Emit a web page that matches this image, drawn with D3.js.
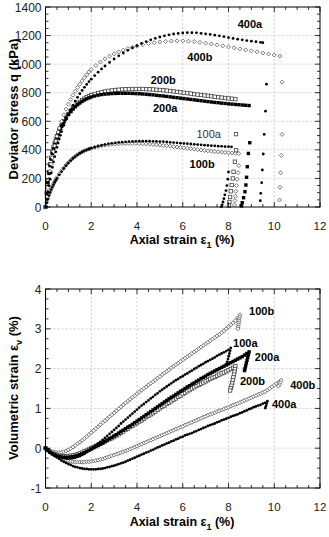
<!DOCTYPE html>
<html>
<head>
<meta charset="utf-8">
<script src="https://cdn.jsdelivr.net/npm/d3@7/dist/d3.min.js"></script>
<style>
  body { margin: 0; background: #fff; }
  svg text { font-family: "Liberation Sans", Arial, sans-serif; }
</style>
</head>
<body>
<svg width="329" height="537"></svg>
<script>
// ---- stress-strain data (axial strain %, q kPa) ----
const q400a = [[0,0],[0.05,55],[0.1,105],[0.15,150],[0.2,195],[0.25,238],[0.3,278],[0.35,316],[0.4,352],[0.45,386],[0.5,418],[0.55,448],[0.6,476],[0.65,502],[0.7,527],[0.8,572],[0.9,612],[1.0,648],[1.1,681],[1.2,712],[1.3,741],[1.4,768],[1.5,793],[1.6,816],[1.7,838],[1.8,858],[1.9,877],[2.0,895],[2.15,920],[2.3,944],[2.45,966],[2.6,987],[2.8,1012],[3.0,1036],[3.2,1058],[3.4,1078],[3.6,1097],[3.8,1114],[4.0,1130],[4.2,1145],[4.4,1158],[4.6,1170],[4.8,1181],[5.0,1190],[5.2,1198],[5.4,1205],[5.6,1211],[5.8,1215],[6.0,1218],[6.2,1220],[6.4,1220],[6.6,1219],[6.8,1216],[7.0,1212],[7.2,1208],[7.4,1203],[7.6,1198],[7.8,1192],[8.0,1186],[8.2,1180],[8.4,1175],[8.6,1170],[8.8,1165],[9.0,1161],[9.2,1157],[9.4,1153],[9.5,1150],
  [9.66,860],[9.62,671],[9.56,508],[9.52,371],[9.48,259],[9.45,170],[9.41,96],[9.39,44]];
const q400b = [[0,0],[0.05,70],[0.1,135],[0.15,195],[0.2,250],[0.25,300],[0.3,345],[0.35,388],[0.4,428],[0.45,462],[0.5,495],[0.55,525],[0.6,552],[0.7,600],[0.8,645],[0.9,685],[1.0,720],[1.1,752],[1.2,782],[1.3,810],[1.4,836],[1.5,860],[1.6,883],[1.7,905],[1.8,925],[1.9,944],[2.0,962],[2.2,990],[2.4,1015],[2.6,1037],[2.8,1056],[3.0,1072],[3.2,1086],[3.4,1098],[3.6,1109],[3.8,1118],[4.0,1126],[4.25,1136],[4.5,1144],[4.75,1150],[5.0,1155],[5.25,1159],[5.5,1162],[5.75,1163],[6.0,1163],[6.25,1161],[6.5,1158],[6.75,1153],[7.0,1147],[7.25,1141],[7.5,1135],[7.75,1128],[8.0,1121],[8.25,1114],[8.5,1107],[8.75,1100],[9.0,1093],[9.25,1086],[9.5,1078],[9.75,1071],[10.0,1064],[10.25,1057],
  [10.34,874],[10.34,508],[10.31,361],[10.28,240],[10.25,138],[10.23,49]];
const q200a = [[0,0],[0.05,90],[0.1,170],[0.15,235],[0.2,290],[0.25,335],[0.3,375],[0.35,408],[0.4,438],[0.45,464],[0.5,488],[0.55,510],[0.6,530],[0.65,549],[0.7,566],[0.75,582],[0.8,597],[0.9,624],[1.0,648],[1.1,668],[1.2,686],[1.3,702],[1.4,716],[1.5,728],[1.6,739],[1.7,749],[1.8,757],[1.9,764],[2.0,770],[2.15,777],[2.3,783],[2.45,787],[2.6,790],[2.75,792],[2.9,794],[3.05,795],[3.2,796],[3.35,796],[3.5,796],[3.65,796],[3.8,795],[3.95,794],[4.1,793],[4.25,791],[4.4,789],[4.55,787],[4.7,785],[4.85,782],[5.0,779],[5.15,777],[5.3,774],[5.45,771],[5.6,768],[5.75,765],[5.9,762],[6.05,759],[6.2,756],[6.35,753],[6.5,750],[6.65,747],[6.8,744],[6.95,741],[7.1,738],[7.25,735],[7.4,732],[7.55,730],[7.7,727],[7.85,725],[8.0,722],[8.15,720],[8.3,718],[8.45,716],[8.6,714],[8.75,712],[8.9,710],
  [8.93,450],[8.87,375],[8.82,282],[8.79,208],[8.76,154],[8.72,107],[8.66,65],[8.6,30],[8.57,8]];
const q200b = [[0,0],[0.05,100],[0.1,180],[0.15,245],[0.2,300],[0.25,345],[0.3,385],[0.35,418],[0.4,447],[0.45,472],[0.5,495],[0.55,516],[0.6,535],[0.65,553],[0.7,570],[0.75,585],[0.8,600],[0.9,627],[1.0,651],[1.1,672],[1.2,691],[1.3,708],[1.4,723],[1.5,736],[1.6,748],[1.7,759],[1.8,768],[1.9,776],[2.0,783],[2.15,791],[2.3,798],[2.45,804],[2.6,809],[2.75,813],[2.9,816],[3.05,819],[3.2,821],[3.35,823],[3.5,824],[3.65,825],[3.8,826],[3.95,826],[4.1,826],[4.25,826],[4.4,825],[4.55,824],[4.7,823],[4.85,821],[5.0,819],[5.15,817],[5.3,815],[5.45,812],[5.6,809],[5.75,806],[5.9,803],[6.05,800],[6.2,797],[6.35,794],[6.5,790],[6.65,787],[6.8,784],[6.95,781],[7.1,778],[7.25,775],[7.4,772],[7.55,769],[7.7,766],[7.85,763],[8.0,760],[8.15,758],[8.3,755],
  [8.33,510],[8.33,398],[8.28,317],[8.22,247],[8.19,200],[8.14,154],[8.1,110],[8.07,70],[8.04,35],[8.02,10]];
const q100a = [[0,0],[0.05,30],[0.1,55],[0.15,80],[0.2,102],[0.25,122],[0.3,140],[0.35,157],[0.4,173],[0.45,187],[0.5,200],[0.6,225],[0.7,248],[0.8,270],[0.9,290],[1.0,308],[1.1,325],[1.2,340],[1.3,353],[1.4,365],[1.5,375],[1.6,385],[1.7,393],[1.8,400],[1.9,406],[2.0,412],[2.15,419],[2.3,426],[2.45,432],[2.6,437],[2.75,442],[2.9,446],[3.05,449],[3.2,452],[3.35,454],[3.5,456],[3.65,458],[3.8,459],[3.95,460],[4.1,461],[4.25,461],[4.4,461],[4.55,461],[4.7,460],[4.85,459],[5.0,458],[5.15,457],[5.3,455],[5.45,453],[5.6,451],[5.75,449],[5.9,447],[6.05,445],[6.2,443],[6.35,441],[6.5,439],[6.65,437],[6.8,435],[6.95,433],[7.1,431],[7.25,429],[7.4,428],[7.55,426],[7.7,425],[7.85,423],[8.0,422],[8.13,421],
  [8.0,245],[7.97,195],[7.93,150],[7.89,115],[7.84,85],[7.8,58],[7.76,35],[7.72,15],[7.69,2]];
const q100b = [[0,0],[0.05,32],[0.1,60],[0.15,85],[0.2,108],[0.25,128],[0.3,146],[0.35,163],[0.4,179],[0.45,193],[0.5,206],[0.6,231],[0.7,254],[0.8,275],[0.9,294],[1.0,312],[1.1,328],[1.2,342],[1.3,355],[1.4,366],[1.5,376],[1.6,385],[1.7,393],[1.8,400],[1.9,406],[2.0,411],[2.15,418],[2.3,424],[2.45,429],[2.6,433],[2.75,436],[2.9,439],[3.05,441],[3.2,443],[3.35,444],[3.5,445],[3.65,445],[3.8,445],[3.95,445],[4.1,444],[4.25,443],[4.4,442],[4.55,440],[4.7,438],[4.85,436],[5.0,434],[5.15,431],[5.3,429],[5.45,426],[5.6,423],[5.75,420],[5.9,417],[6.05,414],[6.2,411],[6.35,408],[6.5,405],[6.65,402],[6.8,399],[6.95,396],[7.1,393],[7.25,391],[7.4,388],[7.55,386],[7.7,384],[7.85,382],[8.0,380],[8.15,378],[8.3,376],[8.45,374],
  [8.45,290],[8.42,240],[8.38,195],[8.35,150],[8.32,110],[8.3,75],[8.28,45],[8.26,15]];

// ---- volumetric strain data (axial strain %, volumetric strain %) ----
const v100b = [[0,0],[0.1,-0.04],[0.2,-0.07],[0.3,-0.09],[0.4,-0.1],[0.5,-0.11],[0.6,-0.11],[0.7,-0.1],[0.8,-0.09],[0.9,-0.07],[1.0,-0.04],[1.1,-0.01],[1.2,0.03],[1.3,0.07],[1.4,0.11],[1.5,0.15],[1.6,0.2],[1.7,0.24],[1.8,0.29],[1.9,0.34],[2.0,0.39],[2.1,0.44],[2.2,0.49],[2.3,0.54],[2.4,0.59],[2.5,0.64],[2.6,0.69],[2.7,0.74],[2.8,0.79],[2.9,0.84],[3.0,0.89],[3.1,0.94],[3.2,0.99],[3.3,1.04],[3.4,1.09],[3.5,1.14],[3.6,1.18],[3.7,1.23],[3.8,1.28],[3.9,1.32],[4.0,1.37],[4.1,1.41],[4.2,1.46],[4.3,1.5],[4.4,1.54],[4.5,1.59],[4.6,1.63],[4.7,1.67],[4.8,1.71],[4.9,1.76],[5.0,1.8],[5.1,1.85],[5.2,1.89],[5.3,1.93],[5.4,1.97],[5.5,2.02],[5.6,2.06],[5.7,2.1],[5.8,2.14],[5.9,2.18],[6.0,2.22],[6.1,2.26],[6.2,2.3],[6.3,2.34],[6.4,2.38],[6.5,2.42],[6.6,2.46],[6.7,2.5],[6.8,2.54],[6.9,2.58],[7.0,2.62],[7.1,2.66],[7.2,2.7],[7.3,2.74],[7.4,2.78],[7.5,2.82],[7.6,2.86],[7.7,2.9],[7.8,2.95],[7.9,3.0],[8.0,3.05],[8.1,3.1],[8.2,3.15],[8.3,3.21],[8.4,3.27],[8.5,3.35],
  [8.48,3.3],[8.47,3.25],[8.45,3.2],[8.44,3.15],[8.43,3.1],[8.42,3.05],[8.41,3.0]];
const v100a = [[0,0],[0.1,-0.05],[0.2,-0.1],[0.3,-0.14],[0.4,-0.17],[0.5,-0.2],[0.6,-0.22],[0.7,-0.24],[0.8,-0.25],[0.9,-0.26],[1.0,-0.26],[1.1,-0.26],[1.2,-0.25],[1.3,-0.24],[1.4,-0.22],[1.5,-0.2],[1.6,-0.17],[1.7,-0.14],[1.8,-0.1],[1.9,-0.06],[2.0,-0.02],[2.1,0.03],[2.2,0.07],[2.3,0.12],[2.4,0.16],[2.5,0.21],[2.6,0.26],[2.7,0.31],[2.8,0.36],[2.9,0.41],[3.0,0.46],[3.1,0.51],[3.2,0.56],[3.3,0.62],[3.4,0.67],[3.5,0.72],[3.6,0.77],[3.7,0.82],[3.8,0.87],[3.9,0.92],[4.0,0.97],[4.1,1.02],[4.2,1.07],[4.3,1.11],[4.4,1.16],[4.5,1.2],[4.6,1.25],[4.7,1.29],[4.8,1.34],[4.9,1.38],[5.0,1.43],[5.1,1.47],[5.2,1.51],[5.3,1.55],[5.4,1.59],[5.5,1.63],[5.6,1.67],[5.7,1.71],[5.8,1.74],[5.9,1.78],[6.0,1.81],[6.1,1.85],[6.2,1.88],[6.3,1.92],[6.4,1.95],[6.5,1.99],[6.6,2.02],[6.7,2.06],[6.8,2.09],[6.9,2.12],[7.0,2.16],[7.1,2.19],[7.2,2.22],[7.3,2.25],[7.4,2.28],[7.5,2.32],[7.6,2.35],[7.7,2.38],[7.8,2.41],[7.9,2.44],[8.0,2.47],[8.1,2.52],
  [8.07,2.45],[8.04,2.38],[8.01,2.31],[7.98,2.24],[7.94,2.17],[7.9,2.11]];
const v200a = [[0,0],[0.1,-0.05],[0.2,-0.1],[0.3,-0.14],[0.4,-0.17],[0.5,-0.19],[0.6,-0.21],[0.7,-0.22],[0.8,-0.23],[0.9,-0.23],[1.0,-0.23],[1.1,-0.22],[1.2,-0.21],[1.3,-0.2],[1.4,-0.18],[1.5,-0.16],[1.6,-0.14],[1.7,-0.11],[1.8,-0.08],[1.9,-0.05],[2.0,-0.02],[2.1,0.01],[2.2,0.04],[2.3,0.07],[2.4,0.1],[2.5,0.13],[2.6,0.17],[2.7,0.2],[2.8,0.24],[2.9,0.27],[3.0,0.31],[3.1,0.34],[3.2,0.38],[3.3,0.42],[3.4,0.45],[3.5,0.49],[3.6,0.53],[3.7,0.56],[3.8,0.6],[3.9,0.64],[4.0,0.68],[4.1,0.72],[4.2,0.76],[4.3,0.8],[4.4,0.84],[4.5,0.88],[4.6,0.92],[4.7,0.96],[4.8,1.0],[4.9,1.04],[5.0,1.08],[5.1,1.12],[5.2,1.16],[5.3,1.2],[5.4,1.24],[5.5,1.28],[5.6,1.31],[5.7,1.35],[5.8,1.39],[5.9,1.43],[6.0,1.46],[6.1,1.5],[6.2,1.54],[6.3,1.57],[6.4,1.61],[6.5,1.64],[6.6,1.68],[6.7,1.71],[6.8,1.75],[6.9,1.78],[7.0,1.81],[7.1,1.85],[7.2,1.88],[7.3,1.91],[7.4,1.94],[7.5,1.97],[7.6,2.0],[7.7,2.03],[7.8,2.06],[7.9,2.09],[8.0,2.12],[8.1,2.15],[8.2,2.18],[8.3,2.21],[8.4,2.24],[8.5,2.27],[8.6,2.3],[8.7,2.34],[8.8,2.38],[8.9,2.42],
  [8.87,2.35],[8.84,2.28],[8.81,2.21],[8.78,2.14],[8.75,2.07],[8.72,2.0],[8.7,1.95]];
const v200b = [[0,0],[0.1,-0.05],[0.2,-0.09],[0.3,-0.12],[0.4,-0.15],[0.5,-0.17],[0.6,-0.19],[0.7,-0.2],[0.8,-0.2],[0.9,-0.2],[1.0,-0.2],[1.1,-0.19],[1.2,-0.18],[1.3,-0.17],[1.4,-0.15],[1.5,-0.13],[1.6,-0.11],[1.7,-0.08],[1.8,-0.06],[1.9,-0.03],[2.0,0.0],[2.1,0.03],[2.2,0.06],[2.3,0.08],[2.4,0.11],[2.5,0.14],[2.6,0.17],[2.7,0.2],[2.8,0.23],[2.9,0.25],[3.0,0.28],[3.1,0.32],[3.2,0.35],[3.3,0.39],[3.4,0.42],[3.5,0.46],[3.6,0.49],[3.7,0.53],[3.8,0.56],[3.9,0.6],[4.0,0.63],[4.1,0.67],[4.2,0.7],[4.3,0.74],[4.4,0.78],[4.5,0.81],[4.6,0.85],[4.7,0.88],[4.8,0.92],[4.9,0.96],[5.0,1.0],[5.1,1.04],[5.2,1.07],[5.3,1.11],[5.4,1.14],[5.5,1.18],[5.6,1.22],[5.7,1.25],[5.8,1.29],[5.9,1.32],[6.0,1.36],[6.1,1.39],[6.2,1.43],[6.3,1.46],[6.4,1.5],[6.5,1.53],[6.6,1.56],[6.7,1.59],[6.8,1.62],[6.9,1.65],[7.0,1.68],[7.1,1.71],[7.2,1.74],[7.3,1.77],[7.4,1.79],[7.5,1.82],[7.6,1.85],[7.7,1.88],[7.8,1.9],[7.9,1.93],[8.0,1.96],[8.1,1.99],[8.2,2.02],[8.3,2.06],
  [8.28,1.99],[8.26,1.92],[8.24,1.85],[8.21,1.78],[8.19,1.71],[8.16,1.64],[8.13,1.57],[8.1,1.51],[8.07,1.45]];
const v400b = [[0,0],[0.1,-0.05],[0.2,-0.1],[0.3,-0.14],[0.4,-0.18],[0.5,-0.21],[0.6,-0.24],[0.7,-0.27],[0.8,-0.29],[0.9,-0.31],[1.0,-0.32],[1.1,-0.33],[1.2,-0.34],[1.3,-0.35],[1.4,-0.35],[1.5,-0.35],[1.6,-0.35],[1.7,-0.35],[1.8,-0.34],[1.9,-0.34],[2.0,-0.33],[2.1,-0.32],[2.2,-0.31],[2.3,-0.3],[2.4,-0.28],[2.5,-0.27],[2.6,-0.25],[2.7,-0.23],[2.8,-0.21],[2.9,-0.19],[3.0,-0.17],[3.1,-0.15],[3.2,-0.13],[3.3,-0.11],[3.4,-0.09],[3.5,-0.07],[3.6,-0.05],[3.7,-0.02],[3.8,0.0],[3.9,0.03],[4.0,0.05],[4.1,0.08],[4.2,0.1],[4.3,0.13],[4.4,0.15],[4.5,0.18],[4.6,0.2],[4.7,0.23],[4.8,0.25],[4.9,0.28],[5.0,0.3],[5.1,0.33],[5.2,0.35],[5.3,0.38],[5.4,0.4],[5.5,0.43],[5.6,0.45],[5.7,0.48],[5.8,0.5],[5.9,0.53],[6.0,0.55],[6.1,0.58],[6.2,0.6],[6.3,0.63],[6.4,0.65],[6.5,0.68],[6.6,0.7],[6.7,0.73],[6.8,0.75],[6.9,0.78],[7.0,0.8],[7.1,0.83],[7.2,0.85],[7.3,0.87],[7.4,0.89],[7.5,0.92],[7.6,0.94],[7.7,0.96],[7.8,0.98],[7.9,1.01],[8.0,1.03],[8.1,1.06],[8.2,1.08],[8.3,1.1],[8.4,1.12],[8.5,1.15],[8.6,1.17],[8.7,1.2],[8.8,1.22],[8.9,1.25],[9.0,1.27],[9.1,1.3],[9.2,1.32],[9.3,1.35],[9.4,1.37],[9.5,1.4],[9.6,1.42],[9.7,1.46],[9.8,1.5],[9.9,1.54],[10.0,1.58],[10.1,1.62],[10.2,1.66],[10.3,1.71],
  [10.26,1.65],[10.22,1.6],[10.18,1.56]];
const v400a = [[0,0],[0.1,-0.05],[0.2,-0.1],[0.3,-0.15],[0.4,-0.19],[0.5,-0.23],[0.6,-0.27],[0.7,-0.31],[0.8,-0.34],[0.9,-0.37],[1.0,-0.4],[1.1,-0.42],[1.2,-0.45],[1.3,-0.47],[1.4,-0.48],[1.5,-0.5],[1.6,-0.51],[1.7,-0.52],[1.8,-0.52],[1.9,-0.53],[2.0,-0.53],[2.1,-0.53],[2.2,-0.53],[2.3,-0.52],[2.4,-0.52],[2.5,-0.51],[2.6,-0.5],[2.7,-0.48],[2.8,-0.47],[2.9,-0.45],[3.0,-0.44],[3.1,-0.42],[3.2,-0.4],[3.3,-0.38],[3.4,-0.36],[3.5,-0.34],[3.6,-0.31],[3.7,-0.29],[3.8,-0.26],[3.9,-0.24],[4.0,-0.21],[4.1,-0.19],[4.2,-0.16],[4.3,-0.14],[4.4,-0.11],[4.5,-0.09],[4.6,-0.06],[4.7,-0.04],[4.8,-0.01],[4.9,0.02],[5.0,0.04],[5.1,0.07],[5.2,0.09],[5.3,0.12],[5.4,0.14],[5.5,0.17],[5.6,0.19],[5.7,0.22],[5.8,0.24],[5.9,0.27],[6.0,0.29],[6.1,0.32],[6.2,0.34],[6.3,0.36],[6.4,0.38],[6.5,0.41],[6.6,0.43],[6.7,0.46],[6.8,0.48],[6.9,0.51],[7.0,0.53],[7.1,0.56],[7.2,0.58],[7.3,0.6],[7.4,0.62],[7.5,0.65],[7.6,0.67],[7.7,0.7],[7.8,0.72],[7.9,0.74],[8.0,0.76],[8.1,0.79],[8.2,0.81],[8.3,0.83],[8.4,0.85],[8.5,0.88],[8.6,0.9],[8.7,0.93],[8.8,0.95],[8.9,0.98],[9.0,1.0],[9.1,1.03],[9.2,1.05],[9.3,1.07],[9.4,1.09],[9.5,1.12],[9.6,1.14],[9.7,1.18],
  [9.67,1.12],[9.64,1.06],[9.61,1.01]];

const xTicks = [0, 2, 4, 6, 8, 10, 12];
const qTicks = [0, 200, 400, 600, 800, 1000, 1200, 1400];
const vTicks = [-1, 0, 1, 2, 3, 4];

// labels: [text, strain, value, bold]
const qLabels = [["400a", 8.4, 1250, true], ["400b", 6.2, 1020, true], ["200b", 4.6, 860, true], ["200a", 4.7, 665, true], ["100a", 6.6, 480, false], ["100b", 6.3, 270, true]];
const vLabels = [["100b", 8.9, 3.35, true], ["100a", 8.2, 2.55, true], ["200a", 9.15, 2.2, true], ["200b", 8.5, 1.6, true], ["400b", 10.7, 1.5, true], ["400a", 9.9, 1.0, true]];

const svg = d3.select("svg");

// marker drawers
const markers = {
  dot: (g, x, y) => g.append("circle").attr("cx", x).attr("cy", y).attr("r", 1.4).attr("fill", "#000"),
  diamond: (g, x, y) => g.append("path").attr("d", `M${x},${y-2}L${x+2},${y}L${x},${y+2}L${x-2},${y}Z`).attr("fill", "#fff").attr("stroke", "#555").attr("stroke-width", 0.8),
  square: (g, x, y) => g.append("rect").attr("x", x - 1.7).attr("y", y - 1.7).attr("width", 3.4).attr("height", 3.4).attr("fill", "#000"),
  osquare: (g, x, y) => g.append("rect").attr("x", x - 1.7).attr("y", y - 1.7).attr("width", 3.4).attr("height", 3.4).attr("fill", "#fff").attr("stroke", "#444").attr("stroke-width", 0.8)
};

function panel(top, bottom, yDomain, yTicks, yMinor, series, labels, yTitle, xTitle, titleY, tickDy, titleDy) {
  const left = 45.5, right = 320;
  const x = d3.scaleLinear().domain([0, 12]).range([left, right]);
  const y = d3.scaleLinear().domain(yDomain).range([bottom, top]);
  const g = svg.append("g");

  // grid
  g.selectAll(".gx").data(xTicks.slice(1, -1)).join("line")
    .attr("x1", d => x(d)).attr("x2", d => x(d)).attr("y1", top).attr("y2", bottom)
    .attr("stroke", "#bbb").attr("stroke-width", 0.7).attr("stroke-dasharray", "2,2");
  g.selectAll(".gy").data(yTicks.slice(1, -1)).join("line")
    .attr("x1", left).attr("x2", right).attr("y1", d => y(d)).attr("y2", d => y(d))
    .attr("stroke", "#bbb").attr("stroke-width", 0.7).attr("stroke-dasharray", "2,2");

  // data markers
  const mg = g.append("g");
  series.forEach(([data, type]) => {
    data.forEach(d => markers[type](mg, x(d[0]), y(d[1])));
  });

  // inward ticks on all sides
  const xMinor = d3.range(0, 12.01, 0.5);
  const yMin = d3.range(yDomain[0], yDomain[1] + 1e-6, yMinor);
  const tk = g.append("g").attr("stroke", "#000").attr("stroke-width", 0.8);
  xMinor.forEach(t => {
    const len = Math.abs(t % 2) < 1e-6 ? 5 : 3;
    tk.append("line").attr("x1", x(t)).attr("x2", x(t)).attr("y1", bottom).attr("y2", bottom - len);
    tk.append("line").attr("x1", x(t)).attr("x2", x(t)).attr("y1", top).attr("y2", top + len);
  });
  yMin.forEach(t => {
    const major = yTicks.some(m => Math.abs(m - t) < 1e-6);
    const len = major ? 5 : 3;
    tk.append("line").attr("y1", y(t)).attr("y2", y(t)).attr("x1", left).attr("x2", left + len);
    tk.append("line").attr("y1", y(t)).attr("y2", y(t)).attr("x1", right).attr("x2", right - len);
  });

  g.append("rect").attr("x", left).attr("y", top).attr("width", right - left).attr("height", bottom - top)
    .attr("fill", "none").attr("stroke", "#000").attr("stroke-width", 1);

  // tick labels
  g.selectAll(".xl").data(xTicks).join("text")
    .attr("x", d => x(d)).attr("y", bottom + tickDy).attr("text-anchor", "middle")
    .attr("font-size", 11.5).attr("fill", "#222").text(d => d);
  g.selectAll(".yl").data(yTicks).join("text")
    .attr("x", left - 4).attr("y", d => y(d) + 4.5).attr("text-anchor", "end")
    .attr("font-size", 12).attr("fill", "#222").text(d => d);

  // curve labels
  g.selectAll(".cl").data(labels).join("text")
    .attr("x", d => x(d[1])).attr("y", d => y(d[2]))
    .attr("font-size", 11).attr("font-weight", d => d[3] ? "bold" : "normal")
    .attr("fill", d => d[3] ? "#000" : "#333").text(d => d[0]);

  // axis titles
  const xt = g.append("text").attr("x", 182).attr("y", bottom + titleDy)
    .attr("text-anchor", "middle").attr("font-size", 12.5).attr("font-weight", "bold");
  xTitle(xt);
  const yt = g.append("text").attr("transform", `translate(18,${titleY}) rotate(-90)`)
    .attr("text-anchor", "middle").attr("font-size", 13).attr("font-weight", "bold");
  yTitle(yt);
}

panel(7, 207, [0, 1400], qTicks, 50,
  [[q100b, "diamond"], [q100a, "dot"], [q200b, "osquare"], [q200a, "square"], [q400b, "diamond"], [q400a, "dot"]],
  qLabels,
  t => t.text("Deviator stress  q  (kPa)"),
  t => { t.append("tspan").text("Axial strain ε"); t.append("tspan").attr("font-size", 9).attr("dy", 4).text("1"); t.append("tspan").attr("dy", -4).text("  (%)"); },
  109, 23, 37);

panel(289, 488, [-1, 4], vTicks, 0.25,
  [[v400b, "diamond"], [v400a, "dot"], [v100b, "diamond"], [v200b, "osquare"], [v200a, "square"], [v100a, "dot"]],
  vLabels,
  t => { t.append("tspan").text("Volumetric strain ε"); t.append("tspan").attr("font-size", 9).attr("dy", 4).text("v"); t.append("tspan").attr("dy", -4).text("  (%)"); },
  t => { t.append("tspan").text("Axial strain  ε"); t.append("tspan").attr("font-size", 9).attr("dy", 4).text("1"); t.append("tspan").attr("dy", -4).text("  (%)"); },
  388, 23, 38);
</script>
</body>
</html>
